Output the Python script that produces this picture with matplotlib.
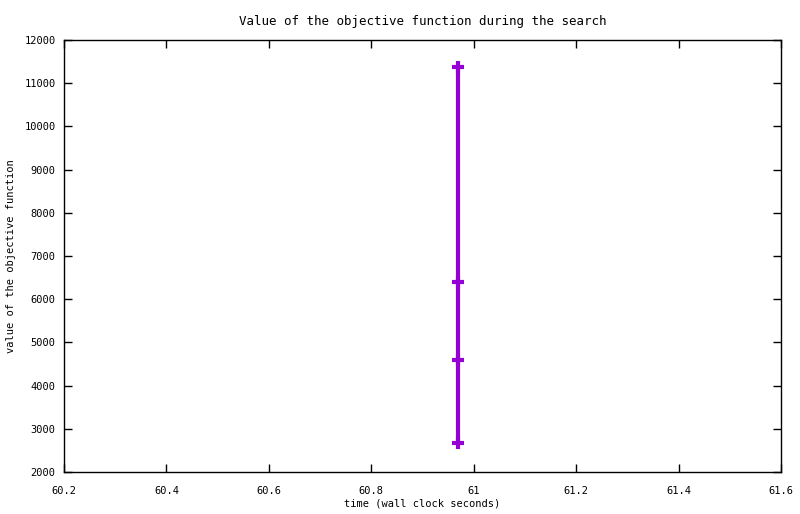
import matplotlib
matplotlib.use("Agg")
import matplotlib.pyplot as plt

# search trace: wall clock time vs objective value
times = [60.969, 60.969, 60.969, 60.969]
values = [11375, 6398, 4593, 2671]

x_ticks = [60.2, 60.4, 60.6, 60.8, 61.0, 61.2, 61.4, 61.6]
x_labels = ["60.2", "60.4", "60.6", "60.8", "61", "61.2", "61.4", "61.6"]
y_ticks = list(range(2000, 12001, 1000))

plt.rcParams["font.family"] = "DejaVu Sans Mono"
plt.rcParams["font.size"] = 7.5

fig = plt.figure(figsize=(8, 5.14), dpi=100)
ax = fig.add_axes([0.08, 0.0817, 0.89625, 0.8405])

ax.plot(times, values, color="#9400d3", linewidth=3, marker="+",
        markersize=9, markeredgewidth=3)

ax.set_xlim(60.2, 61.6)
ax.set_ylim(2000, 12000)
ax.set_xticks(x_ticks)
ax.set_xticklabels(x_labels)
ax.set_yticks(y_ticks)
ax.tick_params(direction="in", length=6, width=1, top=True, right=True,
               labeltop=False, labelright=False, pad=6)
ax.tick_params(axis="x", pad=10)
for s in ax.spines.values():
    s.set_linewidth(1)

ax.set_xlabel("time (wall clock seconds)", labelpad=2)
ax.set_ylabel("value of the objective function", labelpad=6)
ax.set_title("Value of the objective function during the search", pad=11)

fig.savefig("out.png", dpi=100)
